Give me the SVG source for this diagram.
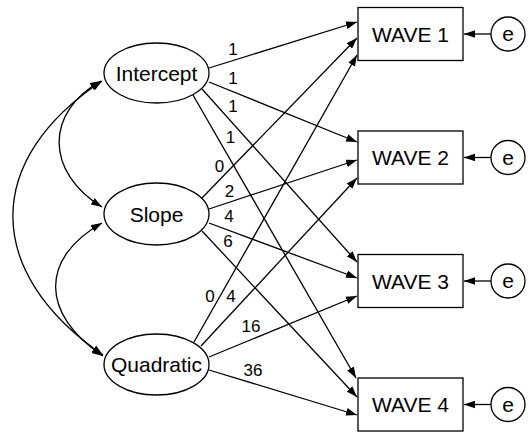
<svg xmlns="http://www.w3.org/2000/svg" width="529" height="432" viewBox="0 0 529 432">
<style>
.n{fill:#fff;stroke:#000;stroke-width:1.3}
.t{font-family:"Liberation Sans",Arial,sans-serif;font-size:21px;text-anchor:middle;fill:#000}
.l{font-family:"Liberation Sans",Arial,sans-serif;font-size:17px;text-anchor:middle;fill:#000}
.c line,.c path{stroke:#000;stroke-width:1.3;fill:none;marker-end:url(#ah)}
.c path{marker-start:url(#ah)}
</style>
<defs>
<marker id="ah" markerUnits="userSpaceOnUse" markerWidth="11" markerHeight="8" refX="10" refY="3.5" orient="auto-start-reverse" viewBox="0 0 10 7"><path d="M0,0 L10,3.5 L0,7 z" fill="#000"/></marker>
</defs>
<rect width="529" height="432" fill="#fff"/>
<g class="c" id="connectors">
<line x1="209" y1="68" x2="357" y2="22"/>
<line x1="209" y1="82" x2="357" y2="142"/>
<line x1="202" y1="89" x2="357" y2="262"/>
<line x1="193" y1="95" x2="356" y2="378"/>
<line x1="202" y1="198" x2="357" y2="38"/>
<line x1="209" y1="209" x2="357" y2="160"/>
<line x1="209" y1="223" x2="357" y2="278"/>
<line x1="202" y1="231" x2="357" y2="397"/>
<line x1="194" y1="342" x2="357" y2="55"/>
<line x1="201" y1="346" x2="357" y2="178"/>
<line x1="209" y1="357" x2="357" y2="296"/>
<line x1="209" y1="370" x2="357" y2="415"/>
<line x1="491" y1="34" x2="464" y2="34"/>
<line x1="491" y1="157.5" x2="464" y2="157.5"/>
<line x1="491" y1="281" x2="464" y2="281"/>
<line x1="491" y1="404.5" x2="464" y2="404.5"/>
<path d="M102,81 C-17,160 -17,272 103,355"/>
<path d="M101,81 C45,112 45,172 102,207"/>
<path d="M102,223 C40,258 40,314 103,356"/>
<text class="l" x="233" y="55">1</text>
<text class="l" x="233" y="84">1</text>
<text class="l" x="233" y="112">1</text>
<text class="l" x="230.5" y="143">1</text>
<text class="l" x="219.5" y="172">0</text>
<text class="l" x="229.5" y="197">2</text>
<text class="l" x="229" y="222">4</text>
<text class="l" x="228" y="247">6</text>
<text class="l" x="210" y="302">0</text>
<text class="l" x="231" y="302">4</text>
<text class="l" x="251" y="332">16</text>
<text class="l" x="253" y="376">36</text>
</g>
<g id="intercept"><ellipse class="n" cx="156.5" cy="73" rx="52.5" ry="30"/><text class="t" x="156.5" y="80.5">Intercept</text></g>
<g id="slope"><ellipse class="n" cx="156.5" cy="214" rx="52.5" ry="31"/><text class="t" x="156.5" y="221.5">Slope</text></g>
<g id="quadratic"><ellipse class="n" cx="156.5" cy="364.5" rx="52.5" ry="30.5"/><text class="t" x="156.5" y="372">Quadratic</text></g>
<g id="wave1"><rect class="n" x="358" y="7.5" width="105" height="53"/><text class="t" x="410.5" y="41.5">WAVE 1</text></g>
<g id="wave2"><rect class="n" x="358" y="131" width="105" height="53"/><text class="t" x="410.5" y="165">WAVE 2</text></g>
<g id="wave3"><rect class="n" x="358" y="254.5" width="105" height="53"/><text class="t" x="410.5" y="288.5">WAVE 3</text></g>
<g id="wave4"><rect class="n" x="358" y="378" width="105" height="53"/><text class="t" x="410.5" y="412">WAVE 4</text></g>
<g id="e1"><circle class="n" cx="508" cy="34" r="17"/><text class="t" x="508" y="41">e</text></g>
<g id="e2"><circle class="n" cx="508" cy="157.5" r="17"/><text class="t" x="508" y="164.5">e</text></g>
<g id="e3"><circle class="n" cx="508" cy="281" r="17"/><text class="t" x="508" y="288">e</text></g>
<g id="e4"><circle class="n" cx="508" cy="404.5" r="17"/><text class="t" x="508" y="411.5">e</text></g>
</svg>
